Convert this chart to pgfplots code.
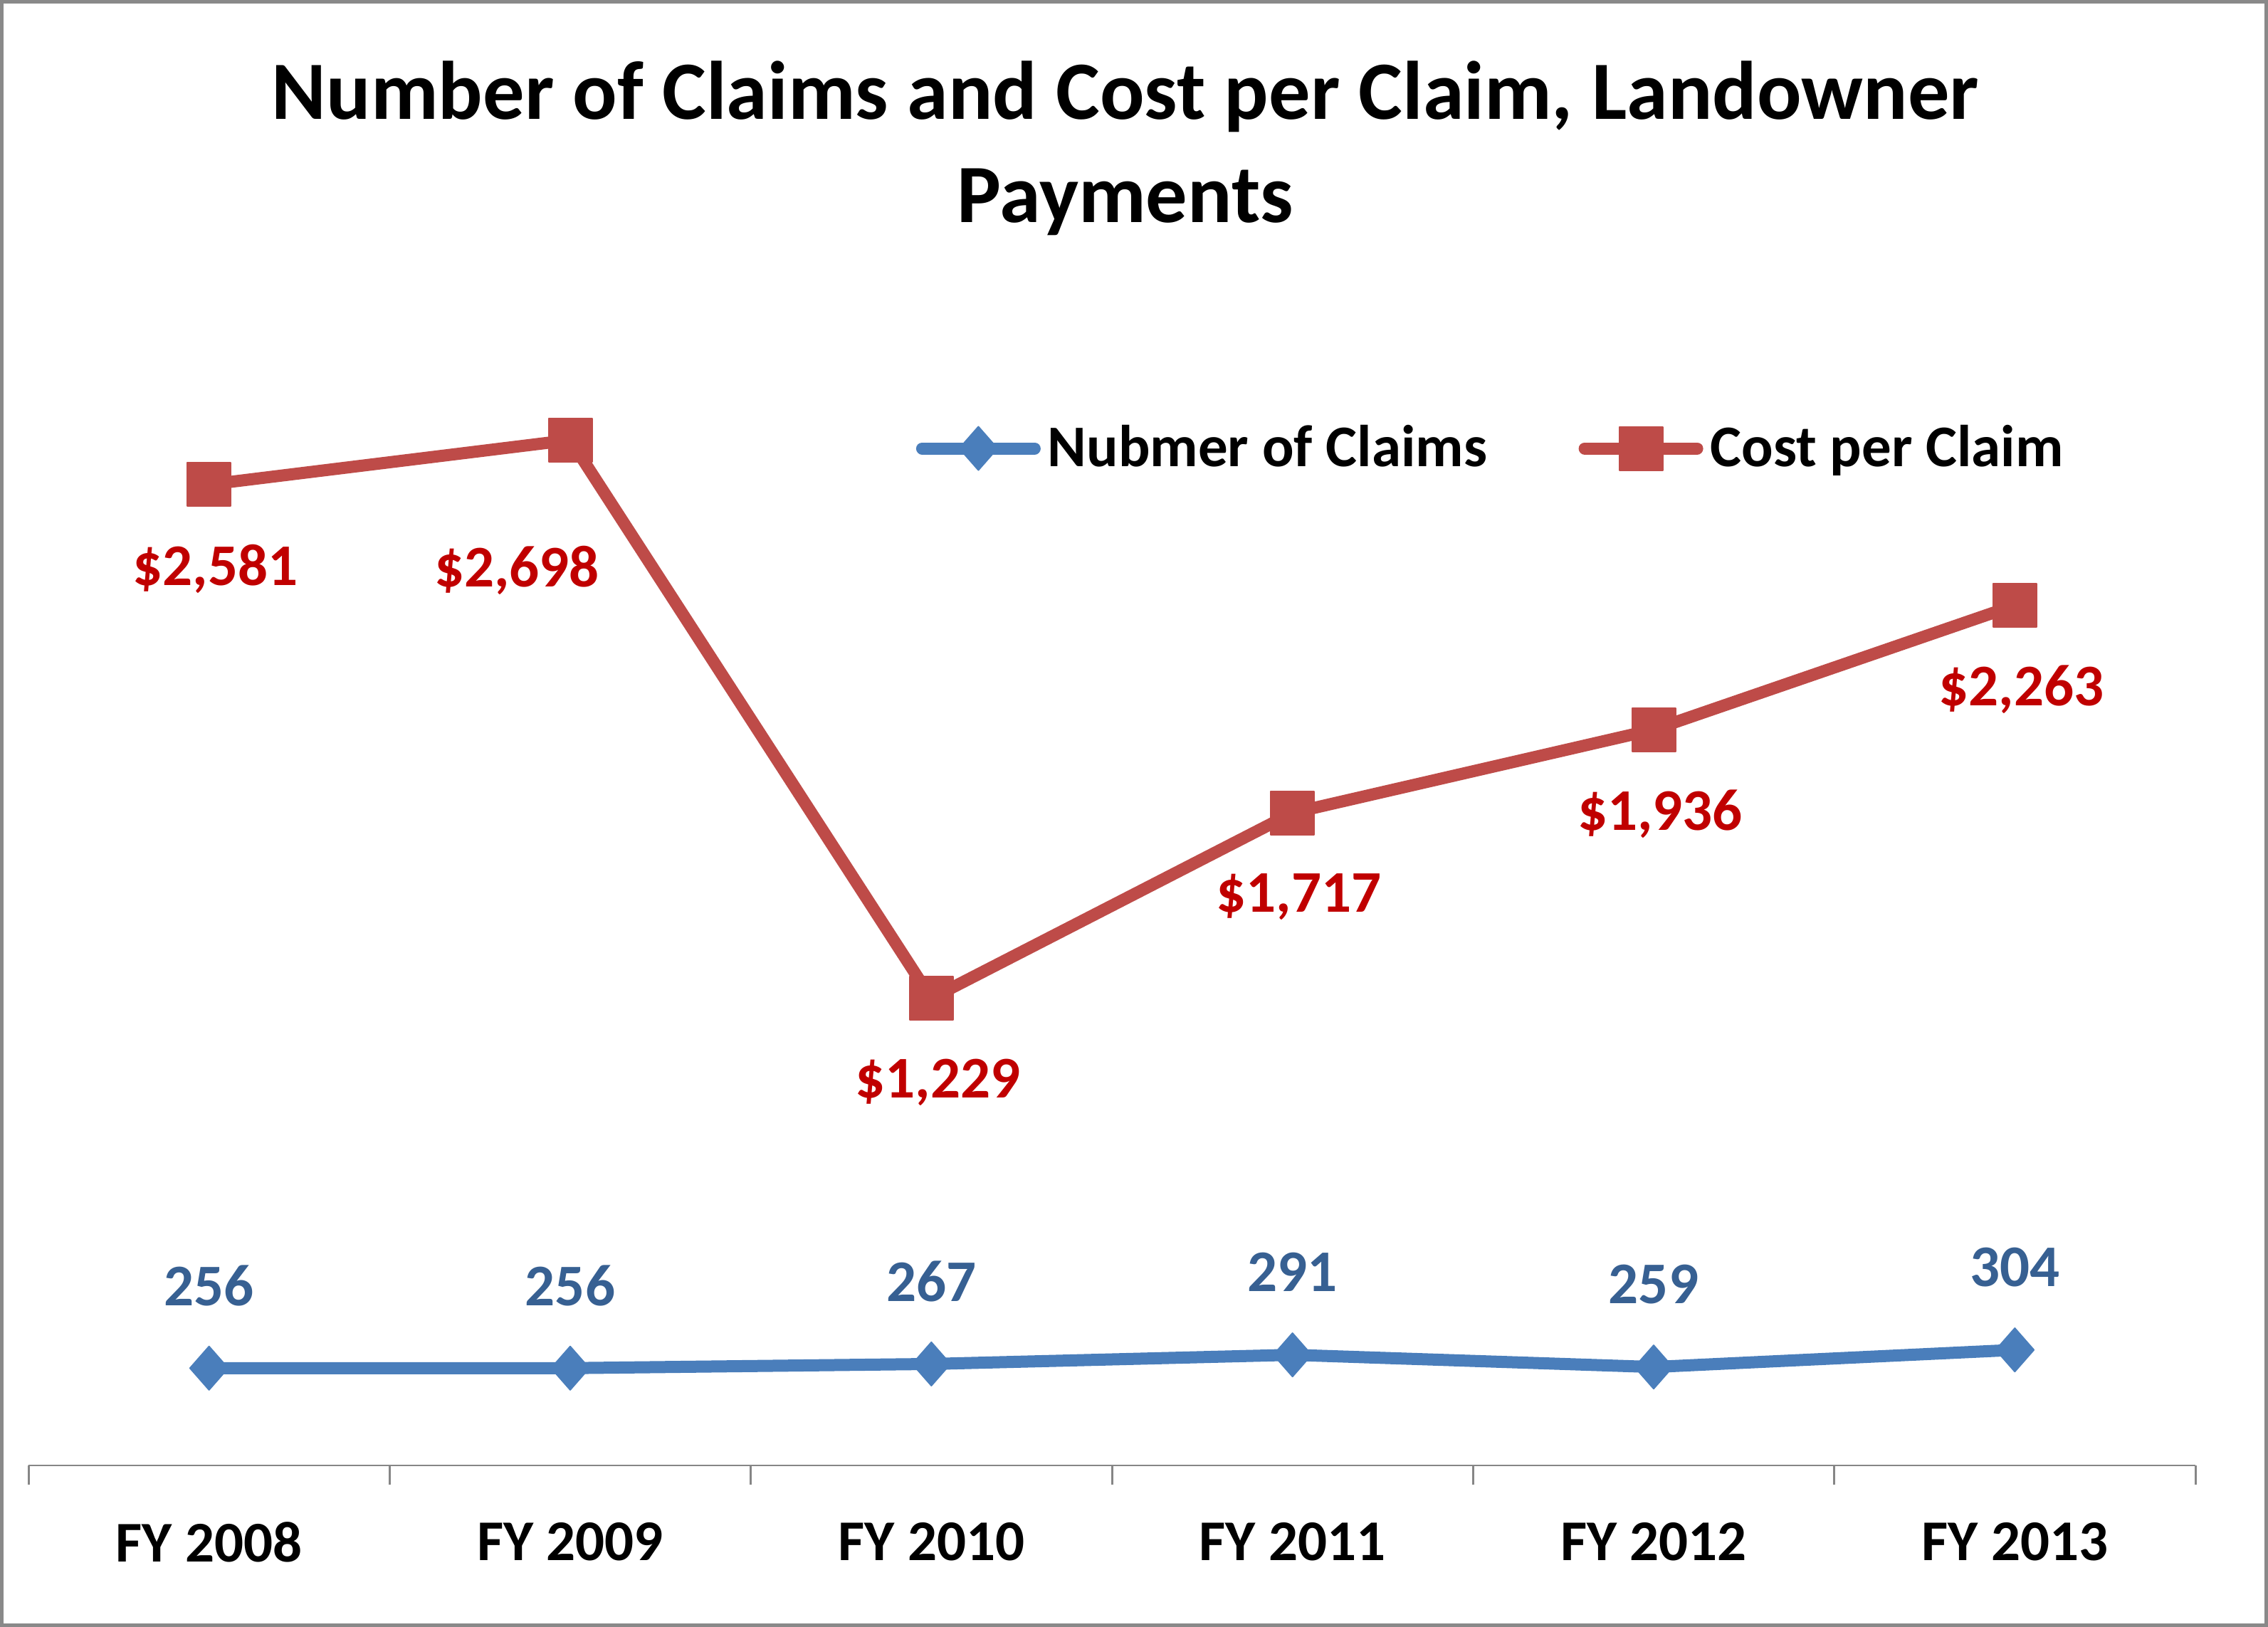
\documentclass[border=0pt]{standalone}
\usepackage{fontspec}
\setmainfont{Carlito}
\usepackage{pgfplots}
\pgfplotsset{compat=1.18}
\usepackage{pgfplotstable}
\definecolor{claimblue}{HTML}{4A7EBB}
\definecolor{costred}{HTML}{BE4B48}
\definecolor{lblblue}{HTML}{376092}
\definecolor{lblred}{HTML}{C00000}
\definecolor{axgray}{HTML}{868686}
\definecolor{framegray}{HTML}{898989}

\pgfplotstableread{
x y xoff yoff
0 256 0 23.2
1 256 0 23.2
2 267 0 23.2
3 291 0 23.2
4 259 0 23.2
5 304 0 23.2
}\claims
\pgfplotstableread{
x y xoff yoff
0 2581 1.8 -23.8
1 2698 -15 -36.7
2 1229 1.8 -23.6
3 1717 1.8 -23.6
4 1936 1.8 -23.8
5 2263 1.8 -23.6
}\cost

\pgfplotsset{
  claimstyle/.style={claimblue, line width=3.4bp, line join=round, line cap=round,
    mark=diamond*, mark size=6.1bp,
    mark options={solid, fill=claimblue, draw=claimblue, line width=0.4bp, xscale=1.17}},
  coststyle/.style={costred, line width=3.4bp, line join=round, line cap=round,
    mark=square*, mark size=6.1bp,
    mark options={solid, fill=costred, draw=costred, line width=0.4bp}},
}

\begin{document}
\begin{tikzpicture}
\useasboundingbox (0,0) rectangle (637.2bp,457.2bp);
\draw[framegray, line width=1bp] (0.5bp,0.5bp) rectangle (636.7bp,456.7bp);
\begin{axis}[
  at={(8bp,45.4bp)}, anchor=south west,
  scale only axis, width=608.8bp, height=320.4bp,
  xmin=-0.5, xmax=5.5, ymin=0, ymax=3000,
  axis x line*=bottom, axis y line=none,
  x axis line style={axgray, line width=0.55bp},
  xtick={0,...,5},
  xticklabels={FY 2008,FY 2009,FY 2010,FY 2011,FY 2012,FY 2013},
  major tick length=0pt,
  minor xtick={-0.5,0.5,...,5.5},
  minor tick length=5.4bp,
  tick align=outside,
  minor tick style={axgray, line width=0.6bp},
  xticklabel style={font=\fontsize{16.2bp}{19bp}\selectfont\bfseries, inner sep=0pt, yshift=-15.8bp, anchor=north},
  clip=false,
  legend image code/.code={\draw[#1, mark repeat=2, mark phase=2] plot coordinates {(0bp,0bp) (15.8bp,0bp) (31.6bp,0bp)};},
  legend style={at={(0.4093,0.892)}, anchor=west, draw=none, fill=none, inner sep=0pt,
    font=\fontsize{16.6bp}{19bp}\selectfont\bfseries,
    /tikz/every even column/.append style={column sep=23.7bp}},
  legend columns=2,
  legend cell align=left,
]
\addplot[claimstyle, forget plot,
  visualization depends on={\thisrow{xoff} \as \xo},
  visualization depends on={\thisrow{yoff} \as \yo},
  nodes near coords={\pgfmathprintnumber[assume math mode=true,fixed,precision=0]{\pgfplotspointmeta}},
  every node near coord/.append style={anchor=center, xshift=\xo bp, yshift=\yo bp,
    font=\fontsize{16.6bp}{20bp}\selectfont\bfseries, text=lblblue, inner sep=0pt},
  point meta=explicit]
  table[x=x, y=y, meta=y] {\claims};
\addplot[coststyle, forget plot,
  visualization depends on={\thisrow{xoff} \as \xo},
  visualization depends on={\thisrow{yoff} \as \yo},
  nodes near coords={\$\pgfmathprintnumber[assume math mode=true,fixed,precision=0]{\pgfplotspointmeta}},
  every node near coord/.append style={anchor=center, xshift=\xo bp, yshift=\yo bp,
    font=\fontsize{16.6bp}{20bp}\selectfont\bfseries, text=lblred, inner sep=0pt},
  point meta=explicit]
  table[x=x, y=y, meta=y] {\cost};
\addlegendimage{claimstyle}
\addlegendentry{Nubmer of Claims}
\addlegendimage{coststyle}
\addlegendentry{Cost per Claim}
\node[anchor=base, font=\fontsize{23.3bp}{27bp}\selectfont\bfseries] at (rel axis cs:0.5062,1.1804) {Number of Claims and Cost per Claim, Landowner};
\node[anchor=base, font=\fontsize{23.3bp}{27bp}\selectfont\bfseries] at (rel axis cs:0.5062,1.0905) {Payments};
\end{axis}
\end{tikzpicture}
\end{document}
